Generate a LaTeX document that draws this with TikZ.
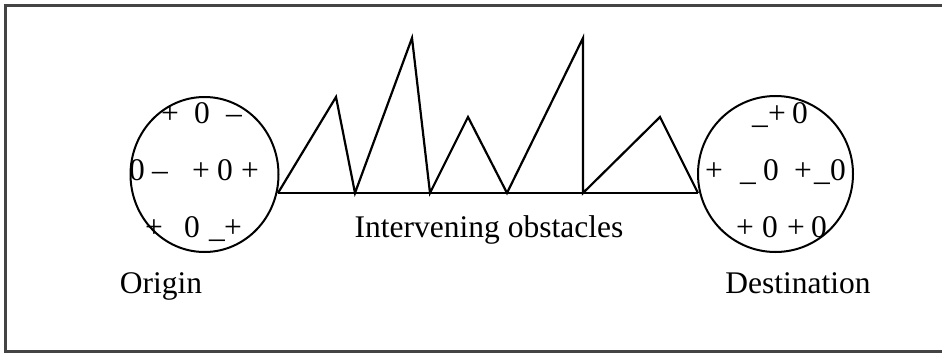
\documentclass[tikz,border=0pt]{standalone}
\usepackage{fontspec}
\setmainfont{Liberation Serif}
\usetikzlibrary{shapes.geometric}
\definecolor{framegray}{HTML}{444444}
\begin{document}
\begin{tikzpicture}[x=1pt,y=-1pt,
  txt/.style={inner sep=0pt,anchor=base,font=\fontsize{31.5}{37}\selectfont},
  ring/.style={draw,ellipse,inner sep=0pt,line width=2pt},
  obst/.style={line width=2.2pt,line join=miter}]
\useasboundingbox (0,0) rectangle (942,353);
\draw[framegray,line width=2.2pt] (944,5.5) -- (5.5,5.5) -- (5.5,351.5) -- (944,351.5);
% circles
\node[ring,minimum width=148,minimum height=155] (orig) at (204.5,174.5) {};
\node[ring,minimum width=155,minimum height=156] (dest) at (775.5,174) {};
% obstacle profile
\coordinate (b0) at (278,193);
\coordinate (p1) at (336,97);
\coordinate (b1) at (355,193);
\coordinate (p2) at (412,38);
\coordinate (b2) at (430,193);
\coordinate (p3) at (468,117);
\coordinate (b3) at (507,193);
\coordinate (p4) at (583,38);
\coordinate (b4) at (583,193);
\coordinate (p5) at (660,117);
\coordinate (b5) at (698,193);
\draw[obst] (b0) -- (b5);
\draw[obst] (b0) -- (p1) -- (b1) -- (p2) -- (b2) -- (p3) -- (b3) -- (p4) -- (b4) -- (p5) -- (b5);
% origin symbols
\node[txt] (o11) at (170,123) {+};
\node[txt] (o12) at (202,123) {0};
\node[txt] (o13) at (234,123) {–};
\node[txt] (o21) at (137,180) {0};
\node[txt] (o22) at (160,180) {–};
\node[txt] (o23) at (201,180) {+};
\node[txt] (o24) at (225,180) {0};
\node[txt] (o25) at (250,180) {+};
\node[txt] (o31) at (154,237) {+};
\node[txt] (o32) at (192,237) {0};
\node[txt] (o33) at (217,237) {\_};
\node[txt] (o34) at (233,237) {+};
% destination symbols
\node[txt] (d11) at (760,123) {\_};
\node[txt] (d12) at (777,123) {+};
\node[txt] (d13) at (800,123) {0};
\node[txt] (d21) at (714,180) {+};
\node[txt] (d22) at (748,180) {\_};
\node[txt] (d23) at (771,180) {0};
\node[txt] (d24) at (803,180) {+};
\node[txt] (d25) at (822,180) {\_};
\node[txt] (d26) at (838,180) {0};
\node[txt] (d31) at (745,237) {+};
\node[txt] (d32) at (770,237) {0};
\node[txt] (d33) at (796,237) {+};
\node[txt] (d34) at (819,237) {0};
% labels
\node[txt] (lbl) at (489,237) {Intervening obstacles};
\node[txt] (olbl) at (161,293) {Origin};
\node[txt] (dlbl) at (798,293) {Destination};
\end{tikzpicture}
\end{document}
